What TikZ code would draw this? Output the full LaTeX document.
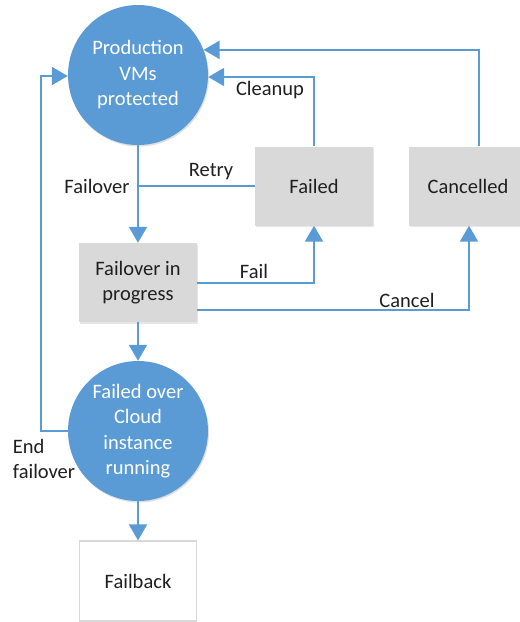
\documentclass[tikz,border=0pt]{standalone}
\usepackage{fontspec}
\setmainfont{Carlito}
\usetikzlibrary{arrows.meta,shadows,calc}
\definecolor{mblue}{HTML}{5B9BD5}
\definecolor{mgray}{HTML}{D9D9D9}
\definecolor{mtext}{HTML}{1F1F1F}
\begin{document}
\begin{tikzpicture}[x=1pt,y=-1pt,
  font=\fontsize{20.5}{25.5}\selectfont,
  state/.style={circle,fill=mblue,minimum size=140pt,inner sep=0pt,align=center,text=white,
    drop shadow={opacity=0.25,shadow xshift=1pt,shadow yshift=-1.5pt}},
  gbox/.style={rectangle,fill=mgray,minimum width=118pt,minimum height=79pt,inner sep=0pt,align=center,text=mtext,
    drop shadow={opacity=0.2,shadow xshift=1pt,shadow yshift=-1.5pt}},
  wbox/.style={rectangle,fill=white,draw=mgray,line width=1.2pt,minimum width=117pt,minimum height=80pt,inner sep=0pt,align=center,text=mtext},
  conn/.style={draw=mblue,line width=2pt},
  arr/.style={conn,-{Triangle[width=18pt,length=16pt]}},
  lbl/.style={text=mtext,inner sep=0pt}
]
\useasboundingbox (0,0) rectangle (520,622);
\node[state] (prod) at (138,75) {Production\\VMs\\protected};
\node[gbox] (failed) at (314,186) {Failed};
\node[gbox] (canc) at (468,186) {Cancelled};
\node[gbox] (fip) at (138,282.5) {Failover in\\progress};
\node[state] (fo) at (138,431) {Failed over\\Cloud\\instance\\running};
\node[wbox] (fb) at (138,581) {Failback};
\coordinate (ef) at (41,431);

\draw[arr] (prod) -- (fip);
\draw[conn] (failed.west) -- (failed.west -| prod);
\draw[arr] (failed.north) |- ([yshift=-2pt]prod.east);
\draw[arr] ([xshift=11pt]canc.north) |- (prod.21);
\draw[arr] (fip.east) -| (failed.south);
\draw[arr] ([yshift=12pt]fip.south east) -| ([xshift=1pt]canc.south);
\draw[arr] (fip) -- (fo);
\draw[arr] (fo.west) -- (ef) |- ([yshift=-1pt]prod.west);
\draw[arr] (fo) -- (fb);

\node[lbl] (lfo) at (97,186) {Failover};
\node[lbl] (lre) at (211,172) {Retry};
\node[lbl] (lcl) at (270,90) {Cleanup};
\node[lbl] (lfa) at (254,271) {Fail};
\node[lbl] (lca) at (407,300) {Cancel};
\node[lbl,align=left] (lef) at (44,459) {End\\failover};
\end{tikzpicture}
\end{document}
